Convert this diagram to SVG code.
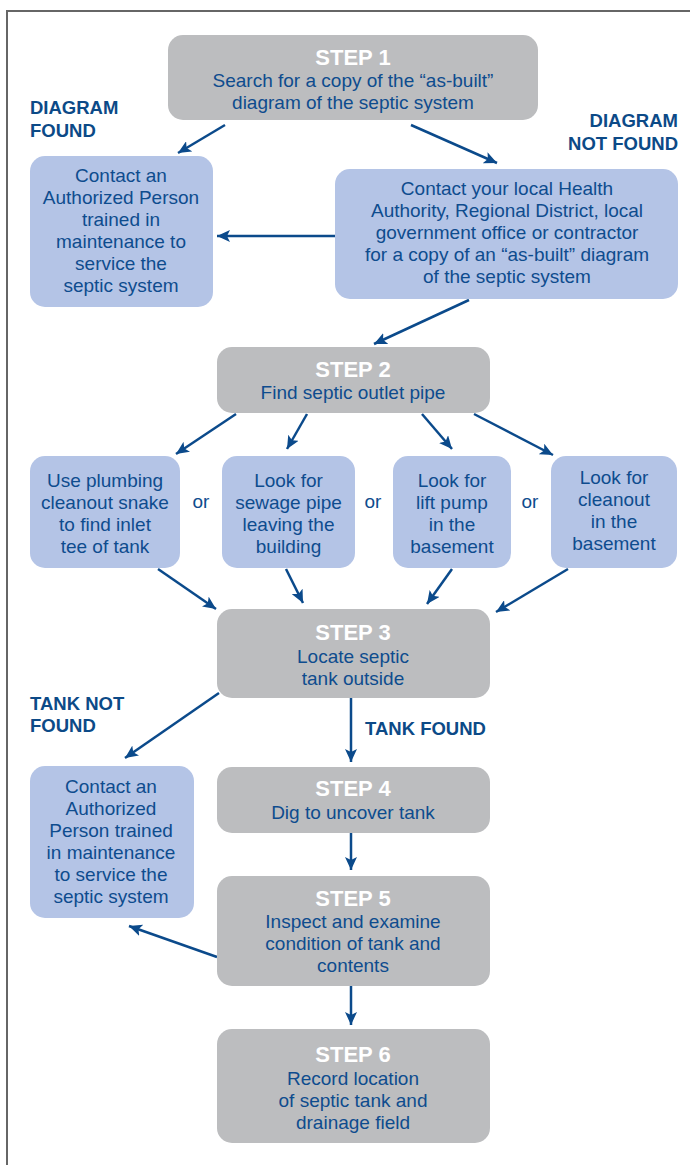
<svg xmlns="http://www.w3.org/2000/svg" width="690" height="1165" viewBox="0 0 690 1165">
<defs>
<marker id="ah" markerUnits="userSpaceOnUse" markerWidth="14" markerHeight="12" refX="13" refY="6" orient="auto">
<path d="M0,0 L13,6 L0,12 L3,6 z" fill="#0b4a8b"/>
</marker>
<style>
.step{fill:#bcbdbf}
.blue{fill:#b4c4e6}
.t{font-family:"Liberation Sans",Arial,sans-serif;font-size:19px;fill:#0e4c8e;text-anchor:middle}
.h{font-family:"Liberation Sans",Arial,sans-serif;font-size:22px;font-weight:bold;fill:#ffffff;text-anchor:middle}
.lab{font-family:"Liberation Sans",Arial,sans-serif;font-size:18.5px;font-weight:bold;fill:#0c4a87}
.c{stroke:#0b4a8b;stroke-width:2.5;fill:none;marker-end:url(#ah)}
</style>
</defs>
<rect width="690" height="1165" fill="#ffffff"/>
<path d="M7,1165 L7,11 L690,11" fill="none" stroke="#666666" stroke-width="2"/>

<g id="connectors">
<line class="c" x1="225" y1="125" x2="178" y2="153"/>
<line class="c" x1="411" y1="125" x2="497" y2="163"/>
<line class="c" x1="335" y1="236" x2="217" y2="236"/>
<line class="c" x1="469" y1="300" x2="374" y2="344"/>
<line class="c" x1="236" y1="414" x2="176" y2="454"/>
<line class="c" x1="307" y1="414" x2="287" y2="449"/>
<line class="c" x1="422" y1="414" x2="452" y2="449"/>
<line class="c" x1="474" y1="414" x2="553" y2="455"/>
<line class="c" x1="158" y1="569" x2="216" y2="609"/>
<line class="c" x1="286" y1="569" x2="303" y2="603"/>
<line class="c" x1="452" y1="569" x2="427" y2="604"/>
<line class="c" x1="568" y1="569" x2="496" y2="612"/>
<line class="c" x1="219" y1="693" x2="125" y2="758"/>
<line class="c" x1="351" y1="698" x2="351" y2="762"/>
<line class="c" x1="351" y1="833" x2="351" y2="870"/>
<line class="c" x1="217" y1="957" x2="129" y2="926"/>
<line class="c" x1="351" y1="986" x2="351" y2="1025"/>
</g>

<g id="labels">
<text class="lab" x="30" y="114">DIAGRAM</text>
<text class="lab" x="30" y="137">FOUND</text>
<text class="lab" x="678" y="127" text-anchor="end">DIAGRAM</text>
<text class="lab" x="678" y="150" text-anchor="end">NOT FOUND</text>
<text class="lab" x="30" y="710">TANK NOT</text>
<text class="lab" x="30" y="732">FOUND</text>
<text class="lab" x="365" y="735">TANK FOUND</text>
<text class="t" x="201" y="508">or</text>
<text class="t" x="373" y="508">or</text>
<text class="t" x="530" y="508">or</text>
</g>

<g id="step1">
<rect class="step" x="168" y="35" width="370" height="85" rx="15"/>
<text class="h" x="353" y="65">STEP 1</text>
<text class="t" x="353" y="87">Search for a copy of the “as-built”</text>
<text class="t" x="353" y="109">diagram of the septic system</text>
</g>

<g id="found1">
<rect class="blue" x="30" y="156" width="183" height="151" rx="15"/>
<text class="t" x="121" y="182">Contact an</text>
<text class="t" x="121" y="204">Authorized Person</text>
<text class="t" x="121" y="226">trained in</text>
<text class="t" x="121" y="248">maintenance to</text>
<text class="t" x="121" y="270">service the</text>
<text class="t" x="121" y="292">septic system</text>
</g>

<g id="notfound1">
<rect class="blue" x="335" y="169" width="343" height="130" rx="15"/>
<text class="t" x="507" y="195">Contact your local Health</text>
<text class="t" x="507" y="217">Authority, Regional District, local</text>
<text class="t" x="507" y="239">government office or contractor</text>
<text class="t" x="507" y="261">for a copy of an “as-built” diagram</text>
<text class="t" x="507" y="283">of the septic system</text>
</g>

<g id="step2">
<rect class="step" x="217" y="347" width="273" height="66" rx="15"/>
<text class="h" x="353" y="377">STEP 2</text>
<text class="t" x="353" y="399">Find septic outlet pipe</text>
</g>

<g id="optA">
<rect class="blue" x="30" y="456" width="150" height="112" rx="15"/>
<text class="t" x="105" y="487">Use plumbing</text>
<text class="t" x="105" y="509">cleanout snake</text>
<text class="t" x="105" y="531">to find inlet</text>
<text class="t" x="105" y="553">tee of tank</text>
</g>

<g id="optB">
<rect class="blue" x="222" y="456" width="133" height="112" rx="15"/>
<text class="t" x="288.5" y="487">Look for</text>
<text class="t" x="288.5" y="509">sewage pipe</text>
<text class="t" x="288.5" y="531">leaving the</text>
<text class="t" x="288.5" y="553">building</text>
</g>

<g id="optC">
<rect class="blue" x="393" y="456" width="118" height="112" rx="15"/>
<text class="t" x="452" y="487">Look for</text>
<text class="t" x="452" y="509">lift pump</text>
<text class="t" x="452" y="531">in the</text>
<text class="t" x="452" y="553">basement</text>
</g>

<g id="optD">
<rect class="blue" x="551" y="456" width="126" height="112" rx="15"/>
<text class="t" x="614" y="484">Look for</text>
<text class="t" x="614" y="506">cleanout</text>
<text class="t" x="614" y="528">in the</text>
<text class="t" x="614" y="550">basement</text>
</g>

<g id="step3">
<rect class="step" x="217" y="609" width="273" height="89" rx="15"/>
<text class="h" x="353" y="640">STEP 3</text>
<text class="t" x="353" y="663">Locate septic</text>
<text class="t" x="353" y="685">tank outside</text>
</g>

<g id="notfound3">
<rect class="blue" x="30" y="766" width="164" height="152" rx="15"/>
<text class="t" x="111" y="793">Contact an</text>
<text class="t" x="111" y="815">Authorized</text>
<text class="t" x="111" y="837">Person trained</text>
<text class="t" x="111" y="859">in maintenance</text>
<text class="t" x="111" y="881">to service the</text>
<text class="t" x="111" y="903">septic system</text>
</g>

<g id="step4">
<rect class="step" x="217" y="767" width="273" height="66" rx="15"/>
<text class="h" x="353" y="796">STEP 4</text>
<text class="t" x="353" y="819">Dig to uncover tank</text>
</g>

<g id="step5">
<rect class="step" x="217" y="876" width="273" height="110" rx="15"/>
<text class="h" x="353" y="906">STEP 5</text>
<text class="t" x="353" y="928">Inspect and examine</text>
<text class="t" x="353" y="950">condition of tank and</text>
<text class="t" x="353" y="972">contents</text>
</g>

<g id="step6">
<rect class="step" x="217" y="1029" width="273" height="114" rx="15"/>
<text class="h" x="353" y="1062">STEP 6</text>
<text class="t" x="353" y="1085">Record location</text>
<text class="t" x="353" y="1107">of septic tank and</text>
<text class="t" x="353" y="1129">drainage field</text>
</g>
</svg>
